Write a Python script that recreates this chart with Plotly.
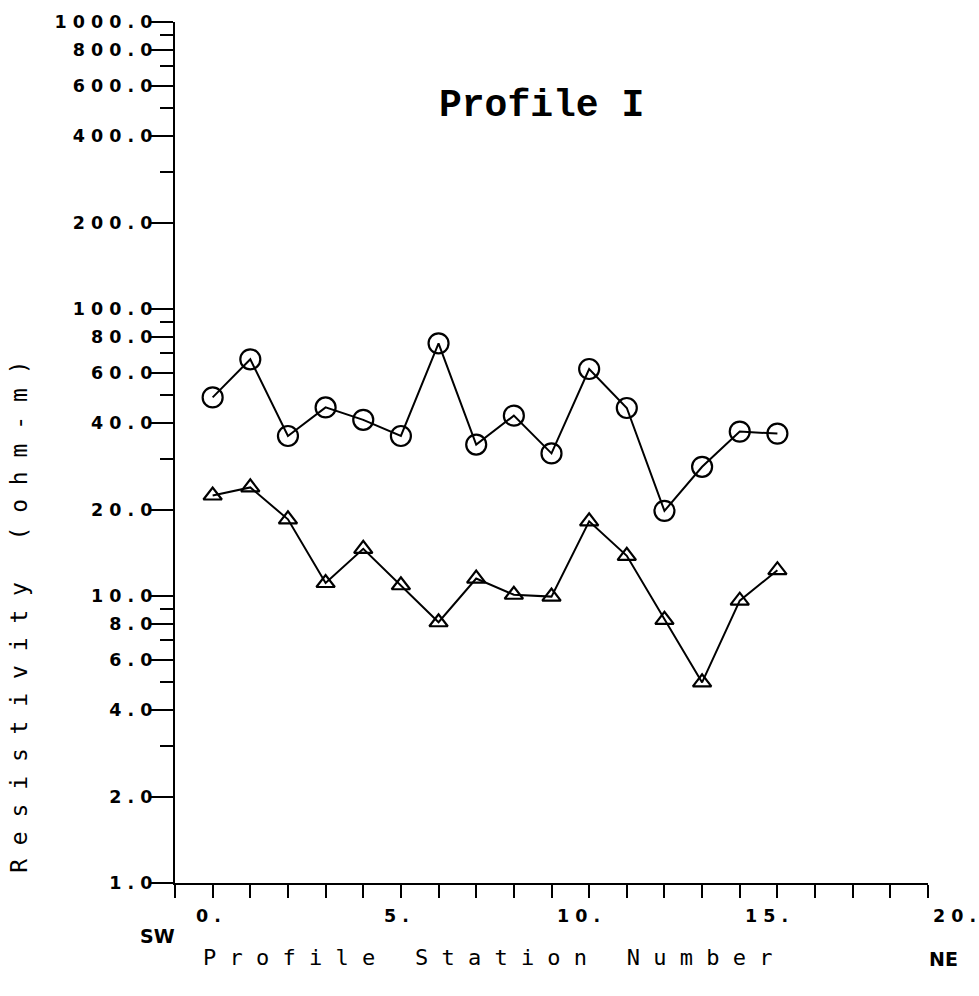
import plotly.graph_objects as go

# ---- data ----
stations = [1, 2, 3, 4, 5, 6, 7, 8, 9, 10, 11, 12, 13, 14, 15, 16]
rho_circle = [49.2, 66.8, 36.1, 45.4, 41.1, 36.1, 75.9, 33.7, 42.5, 31.4,
              61.8, 45.2, 19.8, 28.2, 37.4, 36.8]
rho_triangle = [22.4, 23.9, 18.5, 11.1, 14.6, 10.9, 8.1, 11.5, 10.1, 9.95,
                18.2, 13.8, 8.26, 5.0, 9.63, 12.3]

y_tick_vals = [1, 2, 4, 6, 8, 10, 20, 40, 60, 80, 100, 200, 400, 600, 800, 1000]
y_tick_labels = ["1.0", "2.0", "4.0", "6.0", "8.0", "10.0", "20.0", "40.0", "60.0",
                 "80.0", "100.0", "200.0", "400.0", "600.0", "800.0", "1000.0"]
y_minor_vals = [3, 5, 7, 9, 30, 50, 70, 90, 300, 500, 700, 900]
x_tick_vals = [0, 5, 10, 15, 20]
x_tick_labels = ["0.", "5.", "10.", "15.", "20."]

title_text = "Profile I"
x_title = "Profile Station Number"
y_title = "Resistivity (ohm-m)"
left_end, right_end = "SW", "NE"

NB = "\u00a0"


def spaced(s, gap=NB):
    return gap.join(NB if c == " " else c for c in s)


W, H = 979, 996
ML, MR, MT, MB = 175, 51, 16, 113
PW, PH = W - ML - MR, H - MT - MB


def px(xp):
    return (xp - ML) / PW


def py(yp):
    return (H - MB - yp) / PH


fig = go.Figure()
fig.add_trace(go.Scatter(
    x=stations, y=rho_circle, mode="lines+markers",
    line=dict(color="black", width=2),
    marker=dict(symbol="circle-open", size=20, color="black", line=dict(width=2.2)),
    showlegend=False))
fig.add_trace(go.Scatter(
    x=stations, y=rho_triangle, mode="lines+markers",
    line=dict(color="black", width=2),
    marker=dict(symbol="triangle-up-open", size=16, color="black", line=dict(width=2.2)),
    showlegend=False))

tickfont = dict(family="DejaVu Sans", size=17.5, color="black", weight="bold")

fig.update_xaxes(
    range=[0, 20], showline=True, linecolor="black", linewidth=2,
    showgrid=False, zeroline=False,
    tickmode="array", tickvals=x_tick_vals, ticktext=["" for _ in x_tick_vals],
    ticks="outside", ticklen=23, tickwidth=2, tickcolor="black",
    showticklabels=False,
    minor=dict(dtick=1, tick0=0, ticks="outside", ticklen=13, tickwidth=2,
               tickcolor="black", showgrid=False))
fig.update_yaxes(
    type="log", range=[0, 3], showline=True, linecolor="black", linewidth=2,
    showgrid=False, zeroline=False,
    tickmode="array", tickvals=y_tick_vals,
    ticktext=[spaced(t) for t in y_tick_labels],
    ticks="outside", ticklen=22, tickwidth=2, tickcolor="black",
    tickfont=tickfont, ticklabelstandoff=-5,
    minor=dict(tickmode="array", tickvals=y_minor_vals, ticks="outside",
               ticklen=13, tickwidth=2, tickcolor="black", showgrid=False))

ann = []
for v, t in zip(x_tick_vals, x_tick_labels):
    ann.append(dict(x=v, xref="x", y=0, yref="paper", text=spaced(t),
                    xanchor="left", yanchor="top", showarrow=False,
                    xshift=3 + 16 * (3 - len(t)), yshift=-21, font=tickfont))

ann.append(dict(x=px(541), y=py(100), xref="paper", yref="paper",
                text=title_text.replace(" ", NB), showarrow=False,
                xanchor="center", yanchor="middle",
                font=dict(family="Liberation Mono", size=38, color="black", weight="bold")))
ann.append(dict(x=px(488), y=py(958), xref="paper", yref="paper",
                text=spaced(x_title), showarrow=False,
                xanchor="center", yanchor="middle",
                font=dict(family="DejaVu Sans Mono", size=22, color="black")))
ann.append(dict(x=px(19), y=py(615), xref="paper", yref="paper",
                text=spaced(y_title), showarrow=False, textangle=-90,
                xanchor="center", yanchor="middle",
                font=dict(family="DejaVu Sans Mono", size=23, color="black")))
ann.append(dict(x=px(157), y=py(936), xref="paper", yref="paper",
                text=left_end, showarrow=False, xanchor="center", yanchor="middle",
                font=dict(family="DejaVu Sans", size=19, color="black", weight="bold")))
ann.append(dict(x=px(943), y=py(960), xref="paper", yref="paper",
                text=right_end, showarrow=False, xanchor="center", yanchor="middle",
                font=dict(family="DejaVu Sans", size=19, color="black", weight="bold")))

fig.update_layout(
    width=W, height=H, margin=dict(l=ML, r=MR, t=MT, b=MB),
    paper_bgcolor="white", plot_bgcolor="white",
    annotations=ann, showlegend=False)

fig.write_html("out.html")
